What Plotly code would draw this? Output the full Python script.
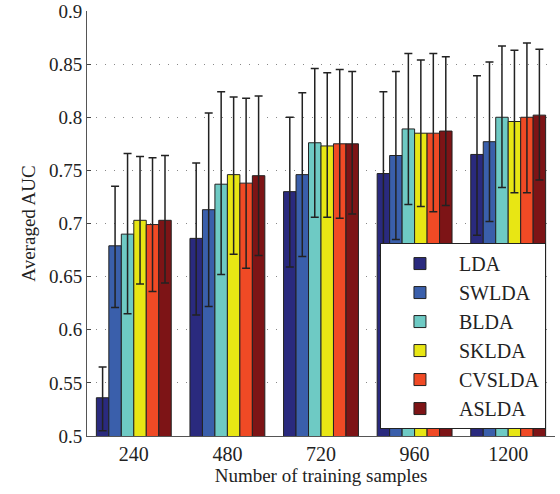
import plotly.graph_objects as go

categories = ["240", "480", "720", "960", "1200"]
methods = ["LDA", "SWLDA", "BLDA", "SKLDA", "CVSLDA", "ASLDA"]
colors = ["#2a2a7e", "#3a5fab", "#6ecac4", "#e8e614", "#f04a25", "#7d1416"]

LDA = [0.536, 0.686, 0.730, 0.747, 0.765]
SWLDA = [0.679, 0.713, 0.746, 0.764, 0.777]
BLDA = [0.690, 0.737, 0.776, 0.789, 0.800]
SKLDA = [0.703, 0.746, 0.773, 0.785, 0.796]
CVSLDA = [0.699, 0.738, 0.775, 0.785, 0.800]
ASLDA = [0.703, 0.745, 0.775, 0.787, 0.802]

LDA_hi = [0.565, 0.757, 0.800, 0.824, 0.839]
SWLDA_hi = [0.735, 0.804, 0.823, 0.843, 0.852]
BLDA_hi = [0.766, 0.824, 0.846, 0.860, 0.867]
SKLDA_hi = [0.763, 0.819, 0.842, 0.854, 0.863]
CVSLDA_hi = [0.762, 0.818, 0.845, 0.860, 0.870]
ASLDA_hi = [0.764, 0.820, 0.843, 0.857, 0.864]

LDA_lo = [0.505, 0.614, 0.659, 0.670, 0.689]
SWLDA_lo = [0.621, 0.622, 0.669, 0.685, 0.702]
BLDA_lo = [0.615, 0.652, 0.706, 0.718, 0.734]
SKLDA_lo = [0.643, 0.671, 0.706, 0.716, 0.729]
CVSLDA_lo = [0.636, 0.658, 0.705, 0.711, 0.729]
ASLDA_lo = [0.644, 0.670, 0.709, 0.717, 0.741]

means = [LDA, SWLDA, BLDA, SKLDA, CVSLDA, ASLDA]
his = [LDA_hi, SWLDA_hi, BLDA_hi, SKLDA_hi, CVSLDA_hi, ASLDA_hi]
los = [LDA_lo, SWLDA_lo, BLDA_lo, SKLDA_lo, CVSLDA_lo, ASLDA_lo]

fig = go.Figure()
for name, col, m, h, l in zip(methods, colors, means, his, los):
    fig.add_trace(go.Bar(
        name=name, x=categories, y=m,
        marker=dict(color=col, line=dict(color="#222222", width=1)),
        error_y=dict(type="data", symmetric=False,
                     array=[hh - mm for hh, mm in zip(h, m)],
                     arrayminus=[mm - ll for mm, ll in zip(m, l)],
                     color="#222222", thickness=1.5, width=4),
    ))

font = "Liberation Serif"
fig.update_layout(
    width=560, height=494,
    margin=dict(l=87, r=5, t=11, b=58, autoexpand=False),
    paper_bgcolor="white", plot_bgcolor="white",
    barmode="group", bargap=0.2, bargroupgap=0,
    font=dict(family=font, size=19, color="#222222"),
    xaxis=dict(
        type="category", showgrid=False, showline=True, linecolor="#555555",
        ticks="", tickfont=dict(family=font, size=20), automargin=False,
        title=dict(text="Number of training samples", font=dict(family=font, size=19), standoff=2),
    ),
    yaxis=dict(
        range=[0.5, 0.9], dtick=0.05, tickformat="~g",
        showgrid=True, gridcolor="#888888", griddash="1px,8px", gridwidth=1.2,
        showline=True, linecolor="#555555", ticks="inside", ticklen=4,
        tickfont=dict(family=font, size=19), zeroline=False, automargin=False,
        title=dict(text="Averaged AUC", font=dict(family=font, size=19), standoff=8),
    ),
    legend=dict(
        x=0.626, y=0.454, xanchor="left", yanchor="top",
        bgcolor="white", bordercolor="#222222", borderwidth=1,
        font=dict(family=font, size=20), itemwidth=68, tracegroupgap=0,
    ),
)

fig.write_html("out.html", config={"displayModeBar": False},
               post_script="document.body.style.margin='0';")
